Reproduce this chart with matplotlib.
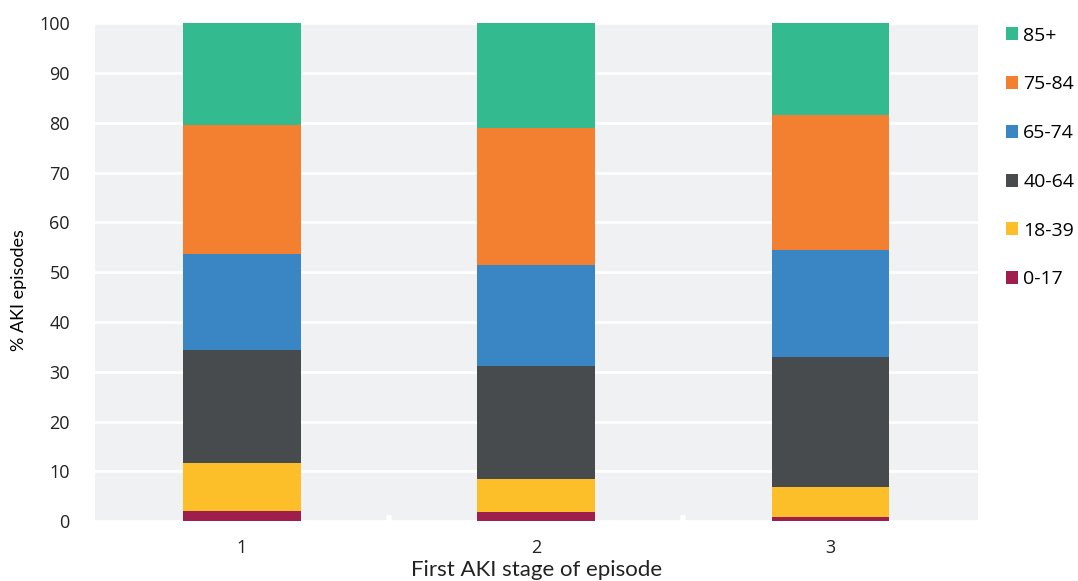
import numpy as np
import matplotlib.pyplot as plt
from matplotlib.patches import Patch

plt.rcParams['font.family'] = ['Open Sans', 'DejaVu Sans']

stages = ["1", "2", "3"]
age_groups = ["0-17", "18-39", "40-64", "65-74", "75-84", "85+"]
colors = ["#9e1f4c", "#fcbf2a", "#474b4d", "#3a85c3", "#f38030", "#33bb8f"]

# % of AKI episodes per age group, one value per stage
pct_0_17 = [2.1, 1.8, 0.8]
pct_18_39 = [9.6, 6.6, 6.0]
pct_40_64 = [22.6, 22.7, 26.1]
pct_65_74 = [19.3, 20.4, 21.5]
pct_75_84 = [25.9, 27.5, 27.1]
pct_85_plus = [20.5, 21.0, 18.5]

series = [pct_0_17, pct_18_39, pct_40_64, pct_65_74, pct_75_84, pct_85_plus]

fig = plt.figure(figsize=(10.78, 5.81), dpi=100)
ax = fig.add_axes([0.088, 0.103, 0.819, 0.857])
ax.set_facecolor("#f0f1f3")

x = np.arange(1, len(stages) + 1)
bottom = np.zeros(len(stages))
for vals, col in zip(series, colors):
    ax.bar(x, vals, 0.4, bottom=bottom, color=col, zorder=3)
    bottom += np.array(vals)

ax.set_xlim(0.5, 3.5)
ax.set_ylim(0, 100)
ax.set_yticks(np.arange(0, 101, 10))
ax.set_xticks(x)
ax.set_xticklabels(stages)
ax.set_xticks([1.5, 2.5], minor=True)
ax.tick_params(axis='x', which='minor', length=4, width=4, color='white', direction='in')
ax.grid(axis='y', color='white', linewidth=2, zorder=1)
ax.tick_params(axis='both', which='major', length=0, labelsize=13, colors='#222222')
ax.tick_params(axis='y', pad=18)
ax.tick_params(axis='x', pad=13)
for s in ax.spines.values():
    s.set_visible(False)

ax.set_ylabel("% AKI episodes", fontsize=13, family=['Lato', 'DejaVu Sans'])
ax.yaxis.set_label_coords(-0.077, 0.464)
ax.set_xlabel("First AKI stage of episode", fontsize=16, family=['Lato', 'DejaVu Sans'],
              labelpad=2, color='#222222')

handles = [Patch(facecolor=c, label=l) for c, l in zip(colors, age_groups)][::-1]
fig.legend(handles=handles, loc='upper left', bbox_to_anchor=(0.933, 0.954),
           frameon=False, fontsize=14, handlelength=0.65, handleheight=0.65,
           handletextpad=0.25, labelspacing=1.58, borderaxespad=0, borderpad=0)

fig.savefig("out.png", dpi=100)
